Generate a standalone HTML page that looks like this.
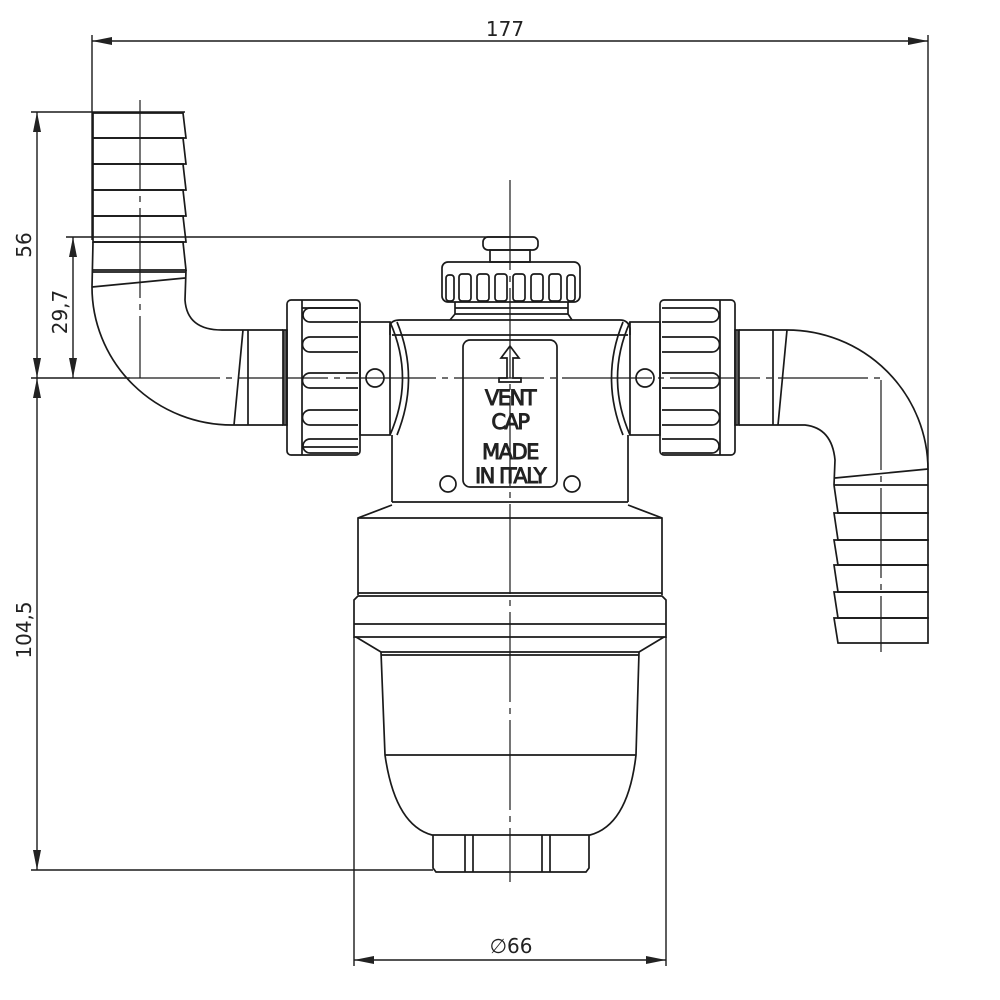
<!DOCTYPE html>
<html><head><meta charset="utf-8"><style>
html,body{margin:0;padding:0;background:#fff}
svg{display:block}
text{font-family:"DejaVu Sans","Liberation Sans",sans-serif;fill:#222}
</style></head><body>
<svg width="1000" height="1000" viewBox="0 0 1000 1000" xmlns="http://www.w3.org/2000/svg">
<defs>
<marker id="a" viewBox="0 0 20 8" refX="20" refY="4" markerWidth="20" markerHeight="8" orient="auto-start-reverse" markerUnits="userSpaceOnUse"><path d="M0,0 L20,4 L0,8 z" fill="#222"/></marker>
</defs>
<g fill="none" stroke="#1a1a1a" stroke-width="1.4">
<!-- dimension lines -->
<line x1="92" y1="41" x2="928" y2="41" marker-start="url(#a)" marker-end="url(#a)"/>
<line x1="92" y1="35" x2="92" y2="240"/>
<line x1="928" y1="35" x2="928" y2="470"/>
<line x1="37" y1="112" x2="37" y2="378" marker-start="url(#a)" marker-end="url(#a)"/>
<line x1="37" y1="378" x2="37" y2="870" marker-start="url(#a)" marker-end="url(#a)"/>
<line x1="73" y1="237" x2="73" y2="378" marker-start="url(#a)" marker-end="url(#a)"/>
<line x1="31" y1="112" x2="185" y2="112"/>
<line x1="66" y1="237" x2="510" y2="237"/>
<line x1="31" y1="378" x2="130" y2="378"/>
<line x1="31" y1="870" x2="433" y2="870"/>
<line x1="354" y1="960" x2="666" y2="960" marker-start="url(#a)" marker-end="url(#a)"/>
<line x1="354" y1="637" x2="354" y2="966"/>
<line x1="666" y1="637" x2="666" y2="966"/>
<!-- centerlines -->
<line x1="510" y1="180" x2="510" y2="882" stroke-width="1.2" stroke-dasharray="90,6,6,6"/>
<line x1="130" y1="378" x2="880" y2="378" stroke-width="1.2" stroke-dasharray="90,6,6,6"/>
<line x1="140" y1="100" x2="140" y2="378" stroke-width="1.2" stroke-dasharray="90,6,6,6"/>
<line x1="881" y1="380" x2="881" y2="652" stroke-width="1.2" stroke-dasharray="90,6,6,6"/>

<!-- left hose barbs -->
<g stroke-width="1.7">
<path d="M93,113 L183,113 L186,138 L93,138 Z"/>
<path d="M93,138 L183,138 L186,164 L93,164 Z"/>
<path d="M93,164 L183,164 L186,190 L93,190 Z"/>
<path d="M93,190 L183,190 L186,216 L93,216 Z"/>
<path d="M93,216 L183,216 L186,242 L93,242 Z"/>
<path d="M93,242 L183,242 L186,270 L93,270"/>
<line x1="93" y1="272" x2="186" y2="272"/>
<line x1="92" y1="287" x2="185" y2="278"/>
<path d="M93,242 L92,287 A140,138 0 0 0 232,425 L283,425"/>
<path d="M186,270 L185,300 Q187,330 222,330 L283,330"/>
<line x1="243" y1="330" x2="234" y2="425"/>
<line x1="248" y1="330" x2="248" y2="425"/>
<rect x="283" y="330" width="4" height="95" fill="#555"/>
</g>

<!-- left nut -->
<g stroke-width="1.7">
<rect x="287" y="300" width="73" height="155" rx="4"/>
<line x1="302" y1="300" x2="302" y2="455"/>
<line x1="302" y1="308" x2="358" y2="308"/>
<line x1="302" y1="447" x2="358" y2="447"/>
<path d="M358,308 L310,308 A7,7 0 0 0 310,322 L358,322"/>
<path d="M358,337 L310,337 A7,7 0 0 0 310,352 L358,352"/>
<path d="M358,373 L310,373 A7,7 0 0 0 310,388 L358,388"/>
<path d="M358,410 L310,410 A7,7 0 0 0 310,425 L358,425"/>
<path d="M358,439 L310,439 A7,7 0 0 0 310,453 L358,453"/>
<rect x="360" y="322" width="30" height="113"/>
<circle cx="375" cy="378" r="9"/>
<path d="M390,322 Q415,378 390,435"/>
<path d="M397,322 Q420,378 397,435"/>
</g>

<!-- right nut -->
<g stroke-width="1.7">
<path d="M630,322 Q605,378 630,435"/>
<path d="M623,322 Q600,378 623,435"/>
<rect x="630" y="322" width="30" height="113"/>
<circle cx="645" cy="378" r="9"/>
<rect x="660" y="300" width="75" height="155" rx="4"/>
<line x1="720" y1="300" x2="720" y2="455"/>
<path d="M662,308 L712,308 A7,7 0 0 1 712,322 L662,322"/>
<path d="M662,337 L712,337 A7,7 0 0 1 712,352 L662,352"/>
<path d="M662,373 L712,373 A7,7 0 0 1 712,388 L662,388"/>
<path d="M662,410 L712,410 A7,7 0 0 1 712,425 L662,425"/>
<path d="M662,439 L712,439 A7,7 0 0 1 712,453 L662,453"/>
<rect x="735" y="330" width="4" height="95" fill="#555"/>
<!-- right hose -->
<path d="M739,330 L787,330 A141,140 0 0 1 928,470 L928,485"/>
<path d="M739,425 L805,425 Q832,428 835,460 L834,485"/>
<line x1="773" y1="330" x2="773" y2="425"/>
<line x1="787" y1="330" x2="778" y2="425"/>
<line x1="835" y1="478" x2="928" y2="469"/>
<line x1="834" y1="485" x2="928" y2="485"/>
<path d="M834,485 L838,513 L928,513 L928,485"/>
<path d="M834,513 L928,513 L928,540 L838,540 Z"/>
<path d="M834,540 L928,540 L928,565 L838,565 Z"/>
<path d="M834,565 L928,565 L928,592 L838,592 Z"/>
<path d="M834,592 L928,592 L928,618 L838,618 Z"/>
<path d="M834,618 L928,618 L928,643 L838,643 Z"/>
</g>

<!-- body -->
<g stroke-width="1.7">
<path d="M390,335 L390,325 Q392,320 400,320 L620,320 Q628,320 630,328 L630,335"/>
<line x1="392" y1="335" x2="628" y2="335"/>
<line x1="392" y1="435" x2="392" y2="502"/>
<line x1="628" y1="435" x2="628" y2="502"/>
<!-- vent cap -->
<rect x="483" y="237" width="55" height="13" rx="5"/>
<rect x="490" y="250" width="40" height="12"/>
<rect x="442" y="262" width="138" height="40" rx="6"/>
<g>
<rect x="446" y="275" width="8" height="26" rx="3"/>
<rect x="459" y="274" width="12" height="27" rx="3"/>
<rect x="477" y="274" width="12" height="27" rx="3"/>
<rect x="495" y="274" width="12" height="27" rx="3"/>
<rect x="513" y="274" width="12" height="27" rx="3"/>
<rect x="531" y="274" width="12" height="27" rx="3"/>
<rect x="549" y="274" width="12" height="27" rx="3"/>
<rect x="567" y="275" width="8" height="26" rx="3"/>
</g>
<path d="M455,302 L455,314 L450,320 M568,302 L568,314 L572,320"/>
<line x1="455" y1="308" x2="568" y2="308"/>
<line x1="455" y1="314" x2="568" y2="314"/>
<!-- label -->
<rect x="463" y="340" width="94" height="147" rx="7"/>
<path d="M510,346 L519,358 L513,358 L513,378 L521,378 L521,382 L499,382 L499,378 L507,378 L507,358 L501,358 Z"/>
<circle cx="448" cy="484" r="8"/>
<circle cx="572" cy="484" r="8"/>
<!-- lower -->
<line x1="392" y1="502" x2="628" y2="502"/>
<path d="M392,505 L358,518 L358,595 M628,505 L662,518 L662,595"/>
<line x1="358" y1="518" x2="662" y2="518"/>
<line x1="358" y1="593" x2="662" y2="593"/>
<path d="M354,600 L354,637 L666,637 L666,600 L662,596 L358,596 Z"/>
<line x1="354" y1="624" x2="666" y2="624"/>
<path d="M356,637 L381,652 L639,652 L664,637"/>
<line x1="381" y1="655" x2="639" y2="655"/>
<path d="M381,652 L385,755 Q395,825 432,835 L590,835 Q628,825 636,755 L639,652"/>
<line x1="385" y1="755" x2="636" y2="755"/>
<path d="M433,835 L433,868 L436,872 L586,872 L589,868 L589,835"/>
<line x1="465" y1="835" x2="465" y2="872"/>
<line x1="473" y1="835" x2="473" y2="872"/>
<line x1="542" y1="835" x2="542" y2="872"/>
<line x1="550" y1="835" x2="550" y2="872"/>
</g>
</g>
<!-- label text -->
<g font-size="21" text-anchor="middle" stroke="#222" stroke-width="0.9" style="font-family:'Liberation Sans',sans-serif;letter-spacing:-1.5px">
<text x="510" y="405" fill="#fff">VENT</text>
<text x="510" y="429" fill="#fff">CAP</text>
<text x="510" y="459" fill="#fff">MADE</text>
<text x="510" y="483" fill="#fff">IN ITALY</text>
</g>
<!-- dimension text -->
<text x="505" y="36" font-size="20" text-anchor="middle">177</text>
<text x="511" y="953" font-size="20" text-anchor="middle">∅66</text>
<text transform="translate(31,245) rotate(-90)" font-size="20" text-anchor="middle">56</text>
<text transform="translate(67,312) rotate(-90)" font-size="20" text-anchor="middle">29,7</text>
<text transform="translate(31,630) rotate(-90)" font-size="20" text-anchor="middle">104,5</text>
</svg>
</body></html>
